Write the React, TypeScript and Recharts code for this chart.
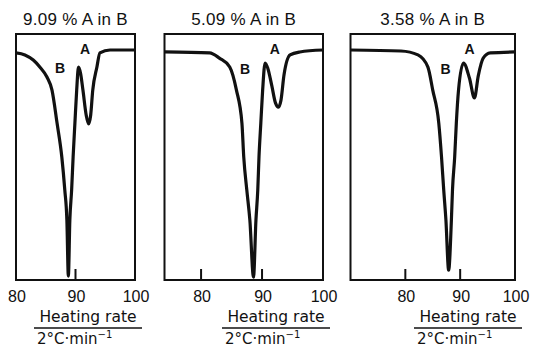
import { LineChart, Line, XAxis, YAxis, ReferenceArea, ReferenceDot } from 'recharts';

// DSC traces, three compositions of A in B
const titles = ['9.09 % A in B', '5.09 % A in B', '3.58 % A in B'];
const xTicks = [80, 90, 100];

const temp1 = [80, 81.5, 82.9, 84.0, 85.2, 86.05, 86.9, 87.7, 88.2, 88.55, 88.8, 89.05, 89.35, 89.6, 89.9, 90.2, 90.5, 90.85, 91.25, 91.8, 92.2, 92.55, 92.9, 93.6, 94.1, 95.8, 100];
const signal1 = [92.3, 91.5, 89.4, 86.6, 82.5, 77.2, 63.8, 50, 36.6, 24.4, 1.6, 24.4, 36.6, 50, 63.8, 77.2, 86.5, 84, 77.2, 67, 63.5, 67, 77.2, 86.6, 92.3, 93.5, 93.5];

const temp2 = [74, 81.4, 83.0, 84.7, 85.8, 86.7, 87.0, 87.5, 88.0, 88.6, 89.0, 89.3, 89.5, 89.8, 90.1, 90.5, 90.95, 91.6, 92.2, 92.7, 93.1, 93.6, 94.6, 96.2, 100];
const signal2 = [92.7, 92.3, 90.2, 86.6, 77.2, 63.8, 50, 36.6, 24.4, 1.2, 24.4, 36.6, 50, 63.8, 77.2, 88.2, 86, 79, 72, 70.3, 73, 83.3, 91.5, 92.7, 93.5];

const temp3 = [70, 79.2, 82.3, 84.1, 85.0, 86.1, 86.6, 87.0, 87.4, 87.9, 88.4, 88.6, 89.0, 89.3, 89.7, 90.6, 91.7, 92.6, 93.3, 94.2, 95.5, 100];
const signal3 = [93.5, 93.1, 91.5, 86.6, 77.2, 63.8, 50, 36.6, 24.4, 4, 24.4, 36.6, 50, 63.8, 77.2, 88.2, 82, 74, 83, 90.2, 92.3, 92.7];

// peak labels [x, y] in data units
const peakA = [[91.6, 93.9], [92.1, 93.9], [91.7, 93.9]];
const peakB = [[87.4, 86.2], [87.2, 85.8], [87.35, 85.8]];

const domains = [[80, 100], [74, 100], [70, 100]];

const W = 533;
const H = 348;
const INK = '#111';
const FONT = '"Liberation Sans", Arial, sans-serif';

const panels = [
  { left: 16, right: 135, temp: temp1, signal: signal1 },
  { left: 164.5, right: 323, temp: temp2, signal: signal2 },
  { left: 350.5, right: 515, temp: temp3, signal: signal3 },
];

function InwardTick(props: any) {
  const { x, y, payload } = props;
  return (
    <g>
      <line x1={x} y1={y} x2={x} y2={y - 11} stroke={INK} strokeWidth={2} />
      <text x={x + 1} y={y + 22} textAnchor="middle" fontFamily={FONT} fontSize={16} fill={INK}>
        {payload.value}
      </text>
    </g>
  );
}

function AxisTitle({ viewBox }: any) {
  if (!viewBox) return null;
  const right = viewBox.x + viewBox.width;
  const top = viewBox.y;
  const cx = right - 47;
  return (
    <g fontFamily='"DejaVu Sans", sans-serif' fill={INK}>
      <text x={cx} y={top + 42} textAnchor="middle" fontSize={15.5}>Heating rate</text>
      <line x1={cx - 54} x2={cx + 54} y1={top + 48} y2={top + 48} stroke={INK} strokeWidth={1.6} />
      <text x={cx - 51} y={top + 64} fontSize={15}>
        2°C·min
        <tspan dy={-6} fontSize={10}>−1</tspan>
      </text>
    </g>
  );
}

export default function App() {
  return (
    <div style={{ position: 'absolute', left: 0, top: 0, width: W, height: H, background: '#fff' }}>
      {panels.map((p, i) => {
        const data = p.temp.map((t, k) => ({ t, v: p.signal[k] }));
        const [lo, hi] = domains[i];
        return (
          <div key={i} style={{ position: 'absolute', left: 0, top: 0 }}>
            <LineChart
              width={W}
              height={H}
              data={data}
              margin={{ top: 34, right: W - p.right, bottom: 0, left: p.left }}
            >
              <XAxis
                dataKey="t"
                type="number"
                domain={[lo, hi]}
                ticks={xTicks.filter((v) => v >= lo)}
                interval={0}
                allowDataOverflow
                axisLine={false}
                tickLine={false}
                tickSize={0}
                tickMargin={0}
                height={68}
                tick={<InwardTick />}
                label={{ content: (lp: any) => <AxisTitle viewBox={lp.viewBox} /> }}
              />
              <YAxis type="number" domain={[0, 100]} hide />
              <ReferenceArea x1={lo} x2={hi} y1={0} y2={100} fill="none" stroke={INK} strokeWidth={2} />
              <Line
                type="monotone"
                dataKey="v"
                stroke={INK}
                strokeWidth={3.2}
                dot={false}
                isAnimationActive={false}
              />
              <ReferenceDot
                x={peakA[i][0]}
                y={peakA[i][1]}
                r={0}
                fill="none"
                stroke="none"
                label={{ value: 'A', position: 'center', fill: INK, fontSize: 14, fontWeight: 700, fontFamily: FONT }}
              />
              <ReferenceDot
                x={peakB[i][0]}
                y={peakB[i][1]}
                r={0}
                fill="none"
                stroke="none"
                label={{ value: 'B', position: 'center', fill: INK, fontSize: 14, fontWeight: 700, fontFamily: FONT }}
              />
            </LineChart>
            <div
              style={{
                position: 'absolute',
                top: 10,
                left: (p.left + p.right) / 2 - 80,
                width: 160,
                textAlign: 'center',
                fontFamily: FONT,
                fontSize: 17,
                lineHeight: '20px',
                color: INK,
                letterSpacing: 0.3,
              }}
            >
              {titles[i]}
            </div>
          </div>
        );
      })}
    </div>
  );
}
